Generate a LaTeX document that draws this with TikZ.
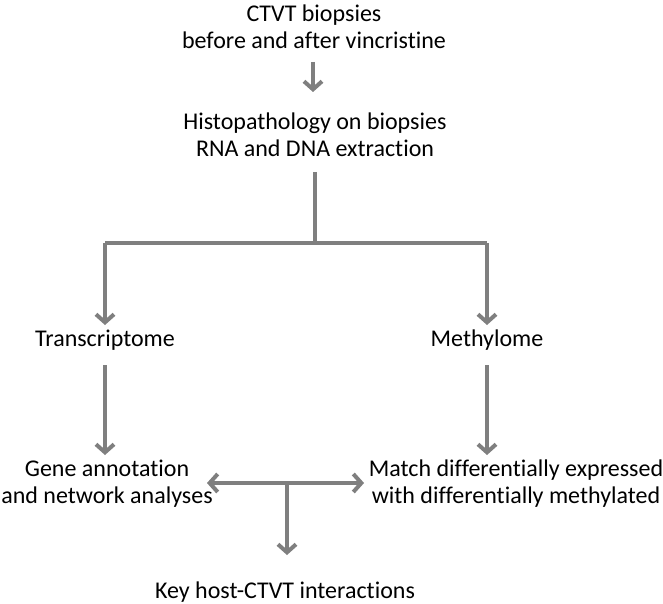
\documentclass[tikz,border=0pt]{standalone}
\usepackage{fontspec}
\setmainfont[Ligatures=NoCommon]{Carlito}
\usetikzlibrary{arrows.meta}
\definecolor{arrowgray}{RGB}{127,127,127}
\tikzset{
  lbl/.style={align=center, font=\fontsize{24}{27}\selectfont, inner sep=0pt, text=black},
  conn/.style={draw=arrowgray, line width=4pt, -{Straight Barb[length=8pt,width=18pt]}},
  plain/.style={draw=arrowgray, line width=4pt},
  dconn/.style={draw=arrowgray, line width=4pt, {Straight Barb[length=8pt,width=18pt]}-{Straight Barb[length=8pt,width=18pt]}}
}
\begin{document}
\begin{tikzpicture}[x=1pt,y=-1pt]
\useasboundingbox (0,0) rectangle (663,604);
\node[lbl] (ctvt) at (314,27) {CTVT biopsies\\before and after vincristine};
\node[lbl] (histo) at (315,135) {Histopathology on biopsies\\RNA and DNA extraction};
\node[lbl] (trans) at (105,340) {Transcriptome};
\node[lbl] (meth) at (487,340) {Methylome};
\node[lbl] (gene) at (107,484) {Gene annotation\\and network analyses};
\node[lbl] (match) at (516,484) {Match differentially expressed\\with differentially methylated};
\node[lbl] (key) at (285,592) {Key host-CTVT interactions};
\coordinate (a1s) at (313,62);
\coordinate (a1e) at (313,92);
\coordinate (hs) at (315,172);
\coordinate (hj) at (315,243);
\coordinate (hl) at (105,243);
\coordinate (hr) at (487,243);
\coordinate (tl) at (105,325);
\coordinate (tr) at (487,325);
\coordinate (gl) at (105,365);
\coordinate (gle) at (105,455);
\coordinate (gr) at (487,365);
\coordinate (gre) at (487,455);
\coordinate (dl) at (207,483);
\coordinate (dr) at (364,483);
\coordinate (dm) at (287,483);
\coordinate (de) at (287,555);
\draw[conn] (a1s) -- (a1e);
\draw[plain] (hs) -- (hj);
\draw[plain] (hl) -- (hr);
\draw[conn] (hl) -- (tl);
\draw[conn] (hr) -- (tr);
\draw[conn] (gl) -- (gle);
\draw[conn] (gr) -- (gre);
\draw[dconn] (dl) -- (dr);
\draw[conn] (dm) -- (de);
\end{tikzpicture}
\end{document}
